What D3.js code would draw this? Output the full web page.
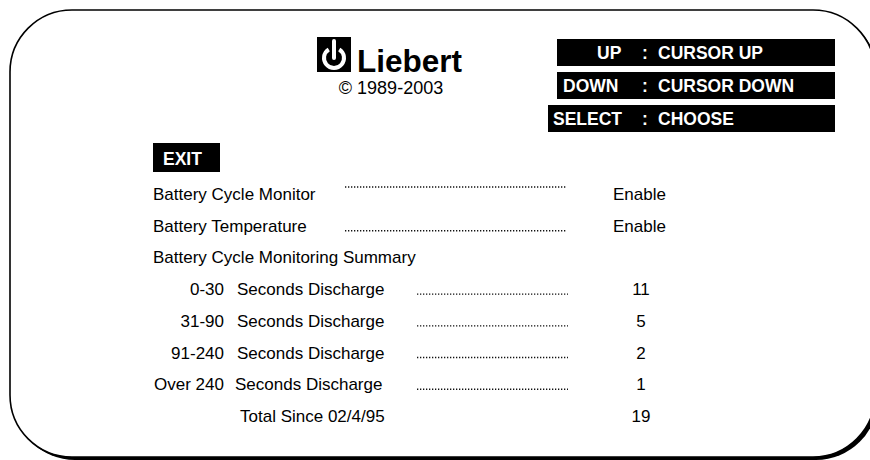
<!DOCTYPE html>
<html>
<head>
<meta charset="utf-8">
<script src="https://cdn.jsdelivr.net/npm/d3@7"></script>
<style>
  body { margin: 0; background: #fff; }
  svg { display: block; font-family: "Liberation Sans", Arial, sans-serif; }
</style>
</head>
<body>
<svg id="screen"></svg>
<script>
// Key help shown in the black boxes
const keyNames = ['UP', 'DOWN', 'SELECT'];
const keyActions = ['CURSOR UP', 'CURSOR DOWN', 'CHOOSE'];

// Battery settings
const settingLabels = ['Battery Cycle Monitor', 'Battery Temperature'];
const settingValues = ['Enable', 'Enable'];

// Discharge summary
const summaryTitle = 'Battery Cycle Monitoring Summary';
const rangeLabels = ['0-30', '31-90', '91-240', 'Over 240'];
const rangeCounts = [11, 5, 2, 1];
const totalLabel = 'Total Since 02/4/95';
const totalCount = 19;

const width = 870;
const height = 460;

const svg = d3.select('#screen')
  .attr('width', width)
  .attr('height', height);

// Frame: thin border with a heavier shadow on the bottom / right
const frame = { x: 10, y: 10, w: 865, h: 447, r: 62 };
svg.append('rect')
  .attr('x', frame.x + 3).attr('y', frame.y + 3)
  .attr('width', frame.w).attr('height', frame.h)
  .attr('rx', frame.r).attr('ry', frame.r)
  .attr('fill', '#000');
svg.append('rect')
  .attr('x', frame.x).attr('y', frame.y)
  .attr('width', frame.w).attr('height', frame.h)
  .attr('rx', frame.r).attr('ry', frame.r)
  .attr('fill', '#fff')
  .attr('stroke', '#000')
  .attr('stroke-width', 1.6);

// Logo: black square with a white drop / power mark
const logo = svg.append('g').attr('transform', 'translate(317, 37)');
logo.append('rect')
  .attr('width', 34).attr('height', 35)
  .attr('fill', '#000');
const ringArc = d3.arc()
  .innerRadius(8)
  .outerRadius(12)
  .startAngle(0.55)
  .endAngle(2 * Math.PI - 0.55);
logo.append('path')
  .attr('transform', 'translate(17, 21)')
  .attr('d', ringArc())
  .attr('fill', '#fff');
logo.append('line')
  .attr('x1', 17).attr('x2', 17)
  .attr('y1', 4).attr('y2', 21)
  .attr('stroke', '#fff')
  .attr('stroke-width', 4)
  .attr('stroke-linecap', 'round');

svg.append('text')
  .attr('x', 357).attr('y', 72)
  .attr('font-size', 31.5)
  .attr('font-weight', 'bold')
  .text('Liebert');

svg.append('text')
  .attr('x', 391).attr('y', 94)
  .attr('text-anchor', 'middle')
  .attr('font-size', 18)
  .text('\u00a9 1989-2003');

// Key help boxes
const boxY = d3.scalePoint()
  .domain(keyNames)
  .range([39, 105]);
const boxLeft = [557, 557, 548];
const keyX = [597, 563, 553];

const keys = svg.append('g')
  .selectAll('g')
  .data(keyNames)
  .join('g')
  .attr('transform', d => `translate(0, ${boxY(d)})`);

keys.append('rect')
  .attr('x', (d, i) => boxLeft[i])
  .attr('width', (d, i) => 835 - boxLeft[i])
  .attr('height', 27)
  .attr('fill', '#000');

keys.append('text')
  .attr('x', (d, i) => keyX[i])
  .attr('y', 19.5)
  .attr('fill', '#fff')
  .attr('font-size', 17.5)
  .attr('font-weight', 'bold')
  .text(d => d);

keys.append('text')
  .attr('x', 642)
  .attr('y', 19.5)
  .attr('fill', '#fff')
  .attr('font-size', 17.5)
  .attr('font-weight', 'bold')
  .text(':');

keys.append('text')
  .attr('x', 658)
  .attr('y', 19.5)
  .attr('fill', '#fff')
  .attr('font-size', 17.5)
  .attr('font-weight', 'bold')
  .text((d, i) => keyActions[i]);

// EXIT button
svg.append('rect')
  .attr('x', 153).attr('y', 143)
  .attr('width', 67).attr('height', 29)
  .attr('fill', '#000');
svg.append('text')
  .attr('x', 163).attr('y', 165)
  .attr('fill', '#fff')
  .attr('font-size', 17.5)
  .attr('font-weight', 'bold')
  .text('EXIT');

// Rows of the menu
const rowY = d3.scaleLinear()
  .domain([0, 7])
  .range([200, 422]);

const body = svg.append('g')
  .attr('font-size', 17)
  .attr('fill', '#000');

const dots = (x1, x2, y) => {
  body.append('line')
    .attr('x1', x1).attr('x2', x2)
    .attr('y1', y).attr('y2', y)
    .attr('stroke', '#111')
    .attr('stroke-width', 1.4)
    .attr('stroke-dasharray', '1.3 1.7');
};

settingLabels.forEach((label, i) => {
  const y = rowY(i);
  body.append('text').attr('x', 153).attr('y', y).text(label);
  // the first leader sits a bit higher on the original screen
  dots(345, 567, i === 0 ? y - 13 : y - 1);
  body.append('text').attr('x', 613).attr('y', y).text(settingValues[i]);
});

body.append('text')
  .attr('x', 153).attr('y', rowY(2))
  .text(summaryTitle);

rangeLabels.forEach((label, i) => {
  const y = rowY(i + 3);
  body.append('text')
    .attr('x', 224).attr('y', y)
    .attr('text-anchor', 'end')
    .text(label);
  body.append('text')
    .attr('x', i === 3 ? 235 : 237).attr('y', y)
    .text('Seconds Discharge');
  dots(417, 568, y - 1);
  body.append('text')
    .attr('x', 641).attr('y', y)
    .attr('text-anchor', 'middle')
    .text(rangeCounts[i]);
});

body.append('text')
  .attr('x', 240).attr('y', rowY(7))
  .text(totalLabel);
body.append('text')
  .attr('x', 641).attr('y', rowY(7))
  .attr('text-anchor', 'middle')
  .text(totalCount);
</script>
</body>
</html>
